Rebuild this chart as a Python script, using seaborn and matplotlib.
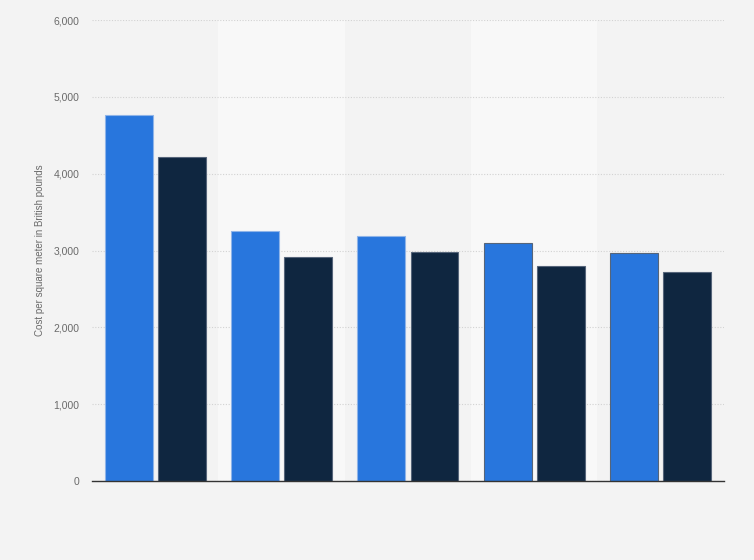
import matplotlib
matplotlib.use("Agg")
import matplotlib.pyplot as plt
import pandas as pd
import seaborn as sns

# Values (no category labels are shown)
categories = ["Category 1", "Category 2", "Category 3", "Category 4", "Category 5"]
series_names = ["Series A", "Series B"]
series_a = [4770, 3250, 3190, 3100, 2970]
series_b = [4220, 2920, 2980, 2800, 2720]
y_ticks = [0, 1000, 2000, 3000, 4000, 5000, 6000]

df = pd.DataFrame({
    "category": categories * 2,
    "series": [series_names[0]] * len(categories) + [series_names[1]] * len(categories),
    "value": series_a + series_b,
})

sns.set_theme(style="white")
plt.rcParams["font.family"] = ["Liberation Sans", "DejaVu Sans"]

fig = plt.figure(figsize=(7.54, 5.6), dpi=100, facecolor="#f3f3f3")
ax = fig.add_axes([0.122, 0.141, 0.838, 0.823])
ax.set_facecolor("#f3f3f3")

# alternating column bands
for i in range(len(categories)):
    if i % 2 == 1:
        ax.axvspan(i - 0.5, i + 0.5, color="#f8f8f8", zorder=0, lw=0)

sns.barplot(
    data=df, x="category", y="value", hue="series",
    palette=["#2876dd", "#0f2640"], saturation=1, width=0.84, gap=0.1,
    edgecolor="#8fb4e8", linewidth=0.8, legend=False, ax=ax, zorder=3,
)
# darker edge for the dark series
for patch in ax.patches[len(categories):]:
    patch.set_edgecolor("#56657a")

ax.set_xlim(-0.5, len(categories) - 0.5)
ax.set_ylim(0, 6000)
ax.set_yticks(y_ticks)
ax.set_yticklabels([f"{v:,}" for v in y_ticks], fontsize=7.5, color="#6a6a6a")
ax.tick_params(axis="y", length=0, pad=9)
ax.set_xticks([])
ax.set_xlabel("")
ax.set_ylabel("Cost per square meter in British pounds", fontsize=7, color="#6a6a6a")
ax.yaxis.set_label_coords(-0.074, 0.5)

ax.yaxis.grid(True, linestyle=(0, (1, 1.5)), color="#d2d2d2", linewidth=0.8, zorder=1)
ax.set_axisbelow(True)
for side in ["top", "right", "left"]:
    ax.spines[side].set_visible(False)
ax.spines["bottom"].set_color("#333333")
ax.spines["bottom"].set_linewidth(1.0)
ax.spines["bottom"].set_zorder(5)

fig.savefig("out.png", dpi=100, facecolor=fig.get_facecolor())
